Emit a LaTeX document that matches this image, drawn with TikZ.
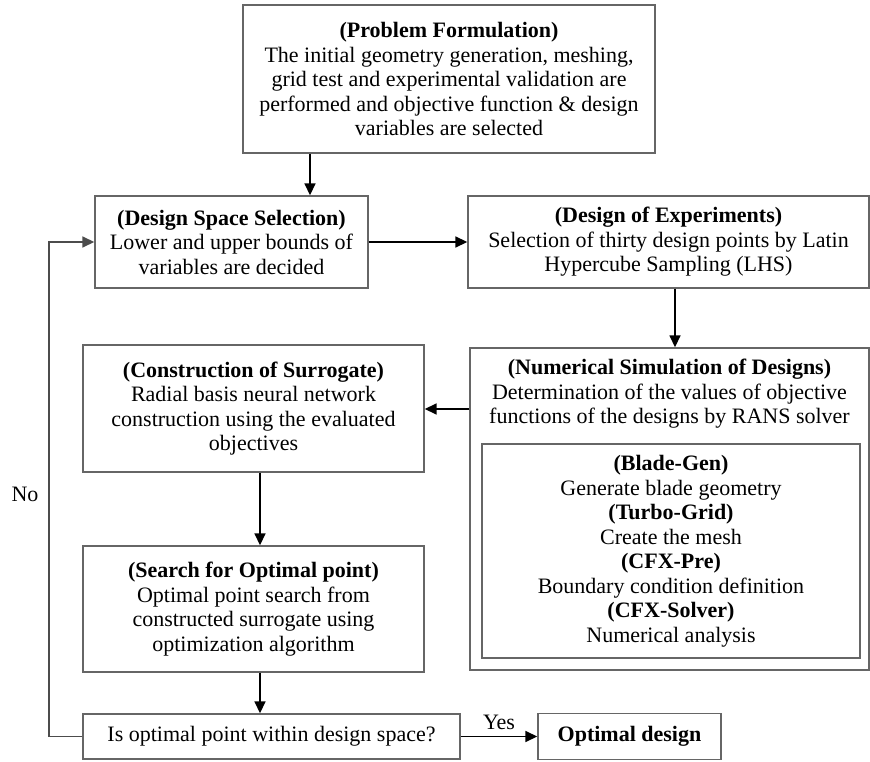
\documentclass[tikz,border=0pt]{standalone}
\usepackage{fontspec}
\setmainfont{Liberation Serif}
\usetikzlibrary{positioning,calc,arrows.meta}

\tikzset{
  stage/.style={draw=black!60, line width=1.4pt, align=center, inner sep=2pt,
    font=\fontsize{22}{24.5}\selectfont},
  plain/.style={align=center, inner sep=0pt, font=\fontsize{22}{24.5}\selectfont},
  link/.style={-{Triangle[length=12pt,width=11pt]}, line width=1.6pt},
}

\begin{document}
\begin{tikzpicture}[x=1pt, y=-1pt]
    \useasboundingbox (0,0) rectangle (870,762);

    % Boxes
    \node[stage, minimum width=412pt, minimum height=148pt] (formul) at (449,79)
        {\textbf{(Problem Formulation)}\\The initial geometry generation, meshing,\\grid test and experimental validation are\\performed and objective function \& design\\variables are selected};
    \node[stage, minimum width=273pt, minimum height=92pt] (dspace) at (231.5,242)
        {\textbf{(Design Space Selection)}\\Lower and upper bounds of\\variables are decided};
    \node[stage, minimum width=401pt, minimum height=92pt] (doe) at (668.5,242)
        {\textbf{(Design of Experiments)}\\Selection of thirty design points by Latin\\Hypercube Sampling (LHS)};
    \node[stage, minimum width=399pt, minimum height=322pt] (numsim) at (669.5,509) {};
    \node[plain] (numtext) at (669.5,394)
        {\textbf{(Numerical Simulation of Designs)}\\Determination of the values of objective\\functions of the designs by RANS solver};
    \node[stage, minimum width=378pt, minimum height=214pt] (tools) at (671,551)
        {\textbf{(Blade-Gen)}\\Generate blade geometry\\\textbf{(Turbo-Grid)}\\Create the mesh\\\textbf{(CFX-Pre)}\\Boundary condition definition\\\textbf{(CFX-Solver)}\\Numerical analysis};
    \node[stage, minimum width=341pt, minimum height=127pt] (surr) at (253.5,408.5)
        {\textbf{(Construction of Surrogate)}\\Radial basis neural network\\construction using the evaluated\\objectives};
    \node[stage, minimum width=341pt, minimum height=126pt] (search) at (253.5,609)
        {\textbf{(Search for Optimal point)}\\Optimal point search from\\constructed surrogate using\\optimization algorithm};
    \node[stage, minimum width=377pt, minimum height=45pt] (check) at (271.5,736.5)
        {Is optimal point within design space?};
    \node[stage, minimum width=183pt, minimum height=46pt] (optimal) at (629.5,736.5)
        {\textbf{Optimal design}};

    % Arrows
    \draw[link] (formul.south -| 310,0) -- (dspace.north -| 310,0);
    \draw[link] (dspace.east) -- (doe.west);
    \draw[link] (doe.south -| 675,0) -- (numsim.north -| 675,0);
    \draw[link] (numsim.west |- 0,409) -- (surr.east |- 0,409);
    \draw[link] (surr.south -| 260,0) -- (search.north -| 260,0);
    \draw[link] (search.south -| 260,0) -- (check.north -| 260,0);
    \draw[link] (check.east) -- node[plain, above=6pt] (yes) {Yes} (optimal.west);

    % Loop back
    \coordinate (loopbot) at (49,736.5);
    \coordinate (looptop) at (49,242);
    \draw[link, draw=black!70] (check.west) -- (loopbot) -- (looptop) -- (dspace.west);
    \node[plain] (no) at (25,494) {No};
\end{tikzpicture}
\end{document}
